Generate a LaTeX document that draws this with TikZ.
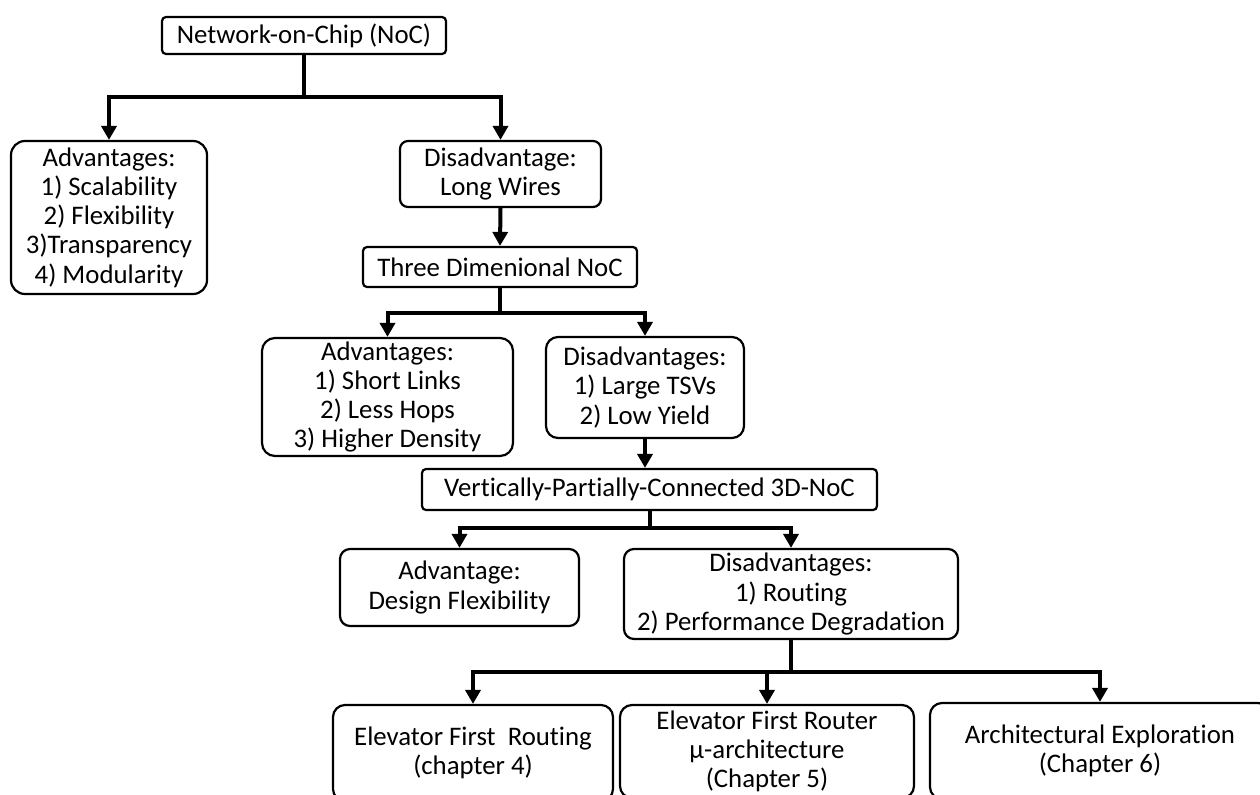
\documentclass[tikz,border=0pt]{standalone}
\usepackage{fontspec}
\setmainfont{Carlito}[Ligatures={NoCommon,NoContextual}]
\usetikzlibrary{arrows.meta}
\begin{document}
\begin{tikzpicture}[x=0.5pt,y=-0.5pt,
  box/.style={draw, line width=1.1pt, align=center, inner sep=0pt, fill=white,
    font=\fontsize{13.4}{14.6}\selectfont, text=black},
  conn/.style={line width=2pt, -{Triangle[width=7.5pt,length=7pt]}},
  link/.style={line width=2pt}]
\useasboundingbox (0,0) rectangle (1260,794);
\clip (0,0) rectangle (1260,794);
% nodes
\node[box, rounded corners=2pt, minimum width=142pt, minimum height=18.5pt] (noc) at (304,35.5) {Network-on-Chip (NoC)};
\node[box, rounded corners=7pt, minimum width=98pt, minimum height=76.5pt] (adv1) at (109,217.5) {Advantages:\\1) Scalability\\2) Flexibility\\3)Transparency\\4) Modularity};
\node[box, rounded corners=4pt, minimum width=100.5pt, minimum height=33pt] (dis1) at (500.5,174) {Disadvantage:\\Long Wires};
\node[box, rounded corners=2pt, minimum width=137pt, minimum height=20pt] (tdn) at (500,267) {Three Dimenional NoC};
\node[box, rounded corners=6.5pt, minimum width=125.5pt, minimum height=59pt] (adv2) at (387.5,397) {Advantages:\\1) Short Links\\2) Less Hops\\3) Higher Density};
\node[box, rounded corners=6pt, minimum width=99pt, minimum height=50.5pt] (dis2) at (645,387.5) {Disadvantages:\\1) Large TSVs\\2) Low Yield};
\node[box, rounded corners=2pt, minimum width=227.5pt, minimum height=20.5pt] (vpc) at (649.5,489.5) {Vertically-Partially-Connected 3D-NoC};
\node[box, rounded corners=5pt, minimum width=119.5pt, minimum height=38.5pt] (adv3) at (459.5,587.5) {Advantage:\\Design Flexibility};
\node[box, rounded corners=5pt, minimum width=167pt, minimum height=45pt] (dis3) at (791,594) {Disadvantages:\\1) Routing\\2) Performance Degradation};
\node[box, rounded corners=6pt, minimum width=140pt, minimum height=48pt] (efr) at (473,753) {Elevator First~ Routing\\(chapter 4)};
\node[box, rounded corners=6pt, minimum width=147pt, minimum height=46.5pt] (efm) at (767,751.5) {Elevator First Router\\μ-architecture\\(Chapter 5)};
\node[box, rounded corners=6pt, minimum width=170pt, minimum height=48pt] (arc) at (1100,751) {Architectural Exploration\\(Chapter 6)};
% junctions
\coordinate (j1) at (304,97);
\coordinate (j2) at (500,313);
\coordinate (j3) at (649.5,528);
\coordinate (j4) at (791,672);
% connectors
\draw[conn] (noc.south) -- (j1) -| (adv1.north);
\draw[conn] (j1) -| (dis1.north);
\draw[conn] (dis1.south) -- (tdn.north);
\draw[conn] (tdn.south) -- (j2) -| (adv2.north);
\draw[conn] (j2) -| (dis2.north);
\draw[conn] (dis2.south) -- (dis2.south |- vpc.north);
\draw[conn] (vpc.south) -- (j3) -| (adv3.north);
\draw[conn] (j3) -| (dis3.north);
\draw[conn] (dis3.south) -- (j4) -| (efr.north);
\draw[conn] (j4) -| (efm.north);
\draw[conn] (j4) -| (arc.north);
\end{tikzpicture}
\end{document}
